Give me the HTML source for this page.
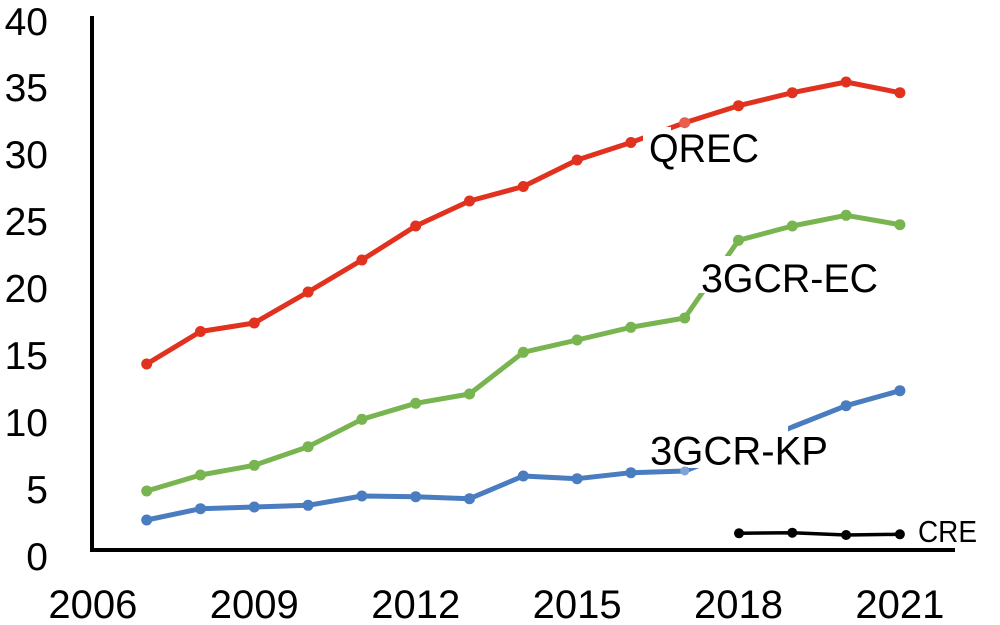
<!DOCTYPE html>
<html>
<head>
<meta charset="utf-8">
<style>
  html, body { margin: 0; padding: 0; background: #ffffff; }
  svg { display: block; }
  text { font-family: "Liberation Sans", sans-serif; fill: #000; }
</style>
</head>
<body>
<svg width="1000" height="625" viewBox="0 0 1000 625" xmlns="http://www.w3.org/2000/svg">
  <rect x="0" y="0" width="1000" height="625" fill="#ffffff"/>

  <!-- Y axis labels -->
  <g font-size="39" text-anchor="end">
    <text x="48" y="35">40</text>
    <text x="48" y="101">35</text>
    <text x="48" y="168">30</text>
    <text x="48" y="235">25</text>
    <text x="48" y="302">20</text>
    <text x="48" y="369">15</text>
    <text x="48" y="436">10</text>
    <text x="48" y="503">5</text>
    <text x="48" y="570">0</text>
  </g>

  <!-- X axis labels -->
  <g font-size="40" text-anchor="middle">
    <text x="92.9" y="618">2006</text>
    <text x="254.3" y="618">2009</text>
    <text x="415.7" y="618">2012</text>
    <text x="577.1" y="618">2015</text>
    <text x="738.5" y="618">2018</text>
    <text x="899.9" y="618">2021</text>
  </g>

  <!-- Axes -->
  <line x1="92" y1="16" x2="92" y2="552" stroke="#000" stroke-width="4"/>
  <line x1="90" y1="550" x2="955" y2="550" stroke="#000" stroke-width="4"/>

  <!-- QREC (red) -->
  <polyline fill="none" stroke="#e0321e" stroke-width="5" stroke-linejoin="round" stroke-linecap="round"
    points="146.7,364 200.5,331.5 254.3,323 308.1,292 361.9,260 415.7,226 469.5,201 523.3,186.5 577.1,160 630.9,142.5 684.7,122.7 738.5,105.7 792.3,92.7 846.1,82 899.9,92.7"/>
  <g fill="#e0321e">
    <circle cx="146.7" cy="364" r="5.5"/>
    <circle cx="200.5" cy="331.5" r="5.5"/>
    <circle cx="254.3" cy="323" r="5.5"/>
    <circle cx="308.1" cy="292" r="5.5"/>
    <circle cx="361.9" cy="260" r="5.5"/>
    <circle cx="415.7" cy="226" r="5.5"/>
    <circle cx="469.5" cy="201" r="5.5"/>
    <circle cx="523.3" cy="186.5" r="5.5"/>
    <circle cx="577.1" cy="160" r="5.5"/>
    <circle cx="630.9" cy="142.5" r="5.5"/>
    <circle cx="684.7" cy="122.7" r="5.5" fill="#e66050"/>
    <circle cx="738.5" cy="105.7" r="5.5"/>
    <circle cx="792.3" cy="92.7" r="5.5"/>
    <circle cx="846.1" cy="82" r="5.5"/>
    <circle cx="899.9" cy="92.7" r="5.5"/>
  </g>

  <!-- 3GCR-EC (green) -->
  <polyline fill="none" stroke="#78b450" stroke-width="5" stroke-linejoin="round" stroke-linecap="round"
    points="146.7,491 200.5,475 254.3,465.3 308.1,446.7 361.9,419.3 415.7,403.3 469.5,394 523.3,352.3 577.1,340 630.9,327.3 684.7,318 738.5,240.3 792.3,226 846.1,215.3 899.9,224.7"/>
  <g fill="#78b450">
    <circle cx="146.7" cy="491" r="5.5"/>
    <circle cx="200.5" cy="475" r="5.5"/>
    <circle cx="254.3" cy="465.3" r="5.5"/>
    <circle cx="308.1" cy="446.7" r="5.5"/>
    <circle cx="361.9" cy="419.3" r="5.5"/>
    <circle cx="415.7" cy="403.3" r="5.5"/>
    <circle cx="469.5" cy="394" r="5.5"/>
    <circle cx="523.3" cy="352.3" r="5.5"/>
    <circle cx="577.1" cy="340" r="5.5"/>
    <circle cx="630.9" cy="327.3" r="5.5"/>
    <circle cx="684.7" cy="318" r="5.5"/>
    <circle cx="738.5" cy="240.3" r="5.5"/>
    <circle cx="792.3" cy="226" r="5.5"/>
    <circle cx="846.1" cy="215.3" r="5.5"/>
    <circle cx="899.9" cy="224.7" r="5.5"/>
  </g>

  <!-- 3GCR-KP (blue) -->
  <polyline fill="none" stroke="#4a7cc0" stroke-width="5" stroke-linejoin="round" stroke-linecap="round"
    points="146.7,520 200.5,508.7 254.3,507 308.1,505.3 361.9,496 415.7,496.7 469.5,498.7 523.3,476 577.1,478.7 630.9,472.7 684.7,471 738.5,450 792.3,427 846.1,405.7 899.9,390.7"/>
  <g fill="#4a7cc0">
    <circle cx="146.7" cy="520" r="5.5"/>
    <circle cx="200.5" cy="508.7" r="5.5"/>
    <circle cx="254.3" cy="507" r="5.5"/>
    <circle cx="308.1" cy="505.3" r="5.5"/>
    <circle cx="361.9" cy="496" r="5.5"/>
    <circle cx="415.7" cy="496.7" r="5.5"/>
    <circle cx="469.5" cy="498.7" r="5.5"/>
    <circle cx="523.3" cy="476" r="5.5"/>
    <circle cx="577.1" cy="478.7" r="5.5"/>
    <circle cx="630.9" cy="472.7" r="5.5"/>
    <circle cx="684.7" cy="471" r="4.5" fill="#7fa3d6"/>
    <circle cx="846.1" cy="405.7" r="5.5"/>
    <circle cx="899.9" cy="390.7" r="5.5"/>
  </g>

  <!-- CRE (black) -->
  <polyline fill="none" stroke="#000" stroke-width="3.5" stroke-linejoin="round"
    points="739,533.3 792.3,532.7 846.1,535 899.9,534.3"/>
  <g fill="#000">
    <circle cx="739" cy="533.3" r="5"/>
    <circle cx="792.3" cy="532.7" r="5"/>
    <circle cx="846.1" cy="535" r="5"/>
    <circle cx="899.9" cy="534.3" r="5"/>
  </g>

  <!-- Label masks -->
  <rect x="643" y="127" width="28" height="45" fill="#ffffff"/>
  <rect x="698" y="256" width="185" height="37" fill="#ffffff"/>
  <rect x="688" y="420" width="100" height="48" fill="#ffffff"/>

  <!-- Series labels -->
  <text x="649" y="162" font-size="40" textLength="110" lengthAdjust="spacingAndGlyphs">QREC</text>
  <text x="701" y="292" font-size="40" textLength="177" lengthAdjust="spacingAndGlyphs">3GCR-EC</text>
  <text x="650" y="464.5" font-size="40" textLength="178" lengthAdjust="spacingAndGlyphs">3GCR-KP</text>
  <text x="918" y="542" font-size="31" textLength="59" lengthAdjust="spacingAndGlyphs">CRE</text>
</svg>
</body>
</html>
